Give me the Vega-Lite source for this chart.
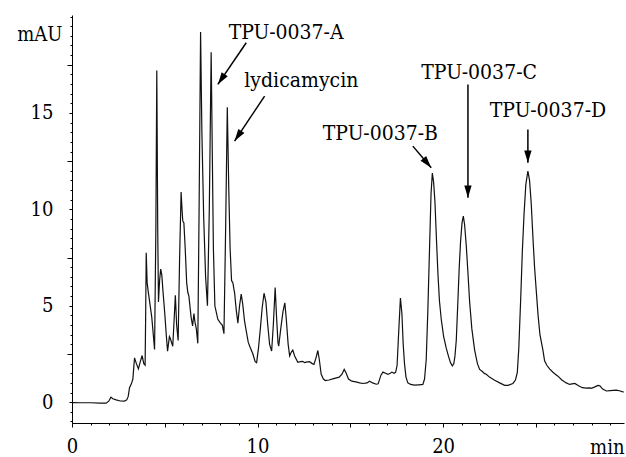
{
  "$schema": "https://vega.github.io/schema/vega-lite/v6.json",
  "width": 552,
  "height": 408,
  "autosize": {"type": "none"},
  "padding": {"left": 72, "top": 15, "right": 2, "bottom": 34},
  "background": "white",
  "config": {
    "view": {"stroke": null},
    "axis": {"grid": false, "domainColor": "black", "tickColor": "black", "labelColor": "black", "titleColor": "black", "labelFont": "DejaVu Serif Condensed", "titleFont": "DejaVu Serif Condensed", "titleFontWeight": "normal", "domainWidth": 1, "tickWidth": 1}
  },
  "datasets": {
    "trace": [
      {"t": 0, "mAU": -0.02}, {"t": 0.5, "mAU": -0.03}, {"t": 1.0, "mAU": -0.03}, {"t": 1.5, "mAU": -0.05},
      {"t": 1.84, "mAU": -0.05}, {"t": 1.98, "mAU": 0.05}, {"t": 2.1, "mAU": 0.26}, {"t": 2.2, "mAU": 0.18},
      {"t": 2.38, "mAU": 0.12}, {"t": 2.6, "mAU": 0.06}, {"t": 2.83, "mAU": 0.05}, {"t": 2.95, "mAU": 0.12},
      {"t": 3.03, "mAU": 0.3}, {"t": 3.1, "mAU": 0.75}, {"t": 3.2, "mAU": 0.95}, {"t": 3.28, "mAU": 1.2},
      {"t": 3.37, "mAU": 2.3}, {"t": 3.47, "mAU": 2.0}, {"t": 3.58, "mAU": 1.73}, {"t": 3.68, "mAU": 2.1},
      {"t": 3.78, "mAU": 2.42}, {"t": 3.87, "mAU": 2.0}, {"t": 3.94, "mAU": 1.92}, {"t": 3.97, "mAU": 4.5},
      {"t": 4.0, "mAU": 7.75}, {"t": 4.05, "mAU": 6.2}, {"t": 4.1, "mAU": 5.8}, {"t": 4.2, "mAU": 5.1},
      {"t": 4.3, "mAU": 4.4}, {"t": 4.45, "mAU": 2.73}, {"t": 4.52, "mAU": 9.0}, {"t": 4.57, "mAU": 17.2},
      {"t": 4.62, "mAU": 9.0}, {"t": 4.66, "mAU": 5.2}, {"t": 4.72, "mAU": 6.3}, {"t": 4.78, "mAU": 6.9},
      {"t": 4.84, "mAU": 6.6}, {"t": 4.9, "mAU": 5.8}, {"t": 5.0, "mAU": 4.6}, {"t": 5.08, "mAU": 3.5},
      {"t": 5.15, "mAU": 2.65}, {"t": 5.25, "mAU": 3.4}, {"t": 5.3, "mAU": 3.3}, {"t": 5.43, "mAU": 2.9},
      {"t": 5.5, "mAU": 4.2}, {"t": 5.57, "mAU": 5.55}, {"t": 5.64, "mAU": 4.0}, {"t": 5.72, "mAU": 3.2},
      {"t": 5.8, "mAU": 7.5}, {"t": 5.88, "mAU": 10.9}, {"t": 5.93, "mAU": 10.0}, {"t": 5.97, "mAU": 9.4},
      {"t": 6.03, "mAU": 9.3}, {"t": 6.1, "mAU": 8.0}, {"t": 6.18, "mAU": 6.2}, {"t": 6.24, "mAU": 5.7},
      {"t": 6.3, "mAU": 5.5}, {"t": 6.42, "mAU": 4.4}, {"t": 6.5, "mAU": 3.95}, {"t": 6.57, "mAU": 4.6},
      {"t": 6.62, "mAU": 4.2}, {"t": 6.7, "mAU": 3.8}, {"t": 6.78, "mAU": 3.05}, {"t": 6.85, "mAU": 10.0},
      {"t": 6.93, "mAU": 19.2}, {"t": 7.0, "mAU": 14.0}, {"t": 7.1, "mAU": 9.5}, {"t": 7.2, "mAU": 6.5},
      {"t": 7.3, "mAU": 5.0}, {"t": 7.4, "mAU": 10.0}, {"t": 7.5, "mAU": 18.15}, {"t": 7.56, "mAU": 13.0},
      {"t": 7.62, "mAU": 8.0}, {"t": 7.7, "mAU": 5.0}, {"t": 7.86, "mAU": 4.3}, {"t": 8.0, "mAU": 4.1},
      {"t": 8.1, "mAU": 4.0}, {"t": 8.19, "mAU": 3.55}, {"t": 8.28, "mAU": 9.0}, {"t": 8.37, "mAU": 15.3},
      {"t": 8.45, "mAU": 11.0}, {"t": 8.52, "mAU": 8.0}, {"t": 8.6, "mAU": 6.3}, {"t": 8.67, "mAU": 6.2},
      {"t": 8.72, "mAU": 5.9}, {"t": 8.76, "mAU": 5.7}, {"t": 8.85, "mAU": 4.8}, {"t": 8.94, "mAU": 4.1},
      {"t": 9.03, "mAU": 5.0}, {"t": 9.12, "mAU": 5.6}, {"t": 9.2, "mAU": 5.1}, {"t": 9.3, "mAU": 4.2},
      {"t": 9.39, "mAU": 3.7}, {"t": 9.5, "mAU": 3.1}, {"t": 9.6, "mAU": 2.85}, {"t": 9.75, "mAU": 2.5},
      {"t": 9.87, "mAU": 2.1}, {"t": 9.95, "mAU": 2.05}, {"t": 10.05, "mAU": 2.8}, {"t": 10.15, "mAU": 3.8},
      {"t": 10.25, "mAU": 4.9}, {"t": 10.35, "mAU": 5.65}, {"t": 10.45, "mAU": 5.2}, {"t": 10.55, "mAU": 4.0},
      {"t": 10.65, "mAU": 3.0}, {"t": 10.76, "mAU": 2.65}, {"t": 10.85, "mAU": 4.0}, {"t": 10.95, "mAU": 5.95},
      {"t": 11.02, "mAU": 4.5}, {"t": 11.1, "mAU": 3.1}, {"t": 11.14, "mAU": 2.9}, {"t": 11.25, "mAU": 3.8},
      {"t": 11.37, "mAU": 4.7}, {"t": 11.47, "mAU": 5.15}, {"t": 11.55, "mAU": 4.3}, {"t": 11.65, "mAU": 3.0},
      {"t": 11.73, "mAU": 2.4}, {"t": 11.82, "mAU": 2.6}, {"t": 11.9, "mAU": 2.7}, {"t": 12.0, "mAU": 2.4},
      {"t": 12.17, "mAU": 2.07}, {"t": 12.3, "mAU": 2.1}, {"t": 12.44, "mAU": 2.12}, {"t": 12.53, "mAU": 2.05},
      {"t": 12.62, "mAU": 2.08}, {"t": 12.8, "mAU": 2.1}, {"t": 12.95, "mAU": 2.0}, {"t": 13.04, "mAU": 1.96},
      {"t": 13.15, "mAU": 2.3}, {"t": 13.25, "mAU": 2.68}, {"t": 13.33, "mAU": 2.2}, {"t": 13.43, "mAU": 1.45},
      {"t": 13.55, "mAU": 1.2}, {"t": 13.65, "mAU": 1.12}, {"t": 13.85, "mAU": 1.15}, {"t": 14.1, "mAU": 1.22},
      {"t": 14.4, "mAU": 1.3}, {"t": 14.55, "mAU": 1.45}, {"t": 14.67, "mAU": 1.7}, {"t": 14.78, "mAU": 1.5},
      {"t": 14.9, "mAU": 1.2}, {"t": 15.08, "mAU": 1.09}, {"t": 15.3, "mAU": 1.05}, {"t": 15.5, "mAU": 1.0},
      {"t": 15.68, "mAU": 0.97}, {"t": 15.9, "mAU": 1.0}, {"t": 16.04, "mAU": 1.09}, {"t": 16.2, "mAU": 1.0},
      {"t": 16.4, "mAU": 0.93}, {"t": 16.5, "mAU": 0.95}, {"t": 16.65, "mAU": 1.4}, {"t": 16.76, "mAU": 1.56},
      {"t": 16.9, "mAU": 1.5}, {"t": 17.03, "mAU": 1.44}, {"t": 17.15, "mAU": 1.5}, {"t": 17.24, "mAU": 1.56},
      {"t": 17.35, "mAU": 1.5}, {"t": 17.44, "mAU": 1.55}, {"t": 17.52, "mAU": 1.9}, {"t": 17.6, "mAU": 3.5},
      {"t": 17.7, "mAU": 5.4}, {"t": 17.78, "mAU": 4.6}, {"t": 17.85, "mAU": 3.0}, {"t": 17.92, "mAU": 2.0},
      {"t": 18.0, "mAU": 1.3}, {"t": 18.1, "mAU": 1.0}, {"t": 18.25, "mAU": 0.92}, {"t": 18.46, "mAU": 0.88},
      {"t": 18.7, "mAU": 0.9}, {"t": 18.91, "mAU": 0.92}, {"t": 19.0, "mAU": 1.2}, {"t": 19.09, "mAU": 2.2},
      {"t": 19.18, "mAU": 4.8}, {"t": 19.27, "mAU": 8.0}, {"t": 19.35, "mAU": 10.8}, {"t": 19.42, "mAU": 11.88},
      {"t": 19.49, "mAU": 11.4}, {"t": 19.56, "mAU": 10.4}, {"t": 19.64, "mAU": 8.5}, {"t": 19.72, "mAU": 6.7},
      {"t": 19.8, "mAU": 5.3}, {"t": 19.9, "mAU": 4.3}, {"t": 20.03, "mAU": 3.4}, {"t": 20.17, "mAU": 2.8},
      {"t": 20.3, "mAU": 2.35}, {"t": 20.4, "mAU": 2.05}, {"t": 20.5, "mAU": 1.88}, {"t": 20.58, "mAU": 2.0},
      {"t": 20.64, "mAU": 2.4}, {"t": 20.71, "mAU": 3.2}, {"t": 20.8, "mAU": 5.3}, {"t": 20.87, "mAU": 7.0},
      {"t": 20.94, "mAU": 8.3}, {"t": 21.02, "mAU": 9.3}, {"t": 21.09, "mAU": 9.65}, {"t": 21.16, "mAU": 9.2},
      {"t": 21.25, "mAU": 8.1}, {"t": 21.34, "mAU": 6.7}, {"t": 21.43, "mAU": 5.2}, {"t": 21.55, "mAU": 3.8},
      {"t": 21.7, "mAU": 2.7}, {"t": 21.85, "mAU": 2.0}, {"t": 21.97, "mAU": 1.7}, {"t": 22.1, "mAU": 1.6},
      {"t": 22.24, "mAU": 1.48}, {"t": 22.33, "mAU": 1.45}, {"t": 22.5, "mAU": 1.3}, {"t": 22.78, "mAU": 1.14},
      {"t": 23.05, "mAU": 1.0}, {"t": 23.32, "mAU": 0.87}, {"t": 23.5, "mAU": 0.87}, {"t": 23.76, "mAU": 0.97},
      {"t": 23.9, "mAU": 1.15}, {"t": 24.0, "mAU": 1.55}, {"t": 24.08, "mAU": 2.8}, {"t": 24.18, "mAU": 5.3},
      {"t": 24.27, "mAU": 7.8}, {"t": 24.36, "mAU": 9.7}, {"t": 24.46, "mAU": 11.3}, {"t": 24.57, "mAU": 11.98},
      {"t": 24.66, "mAU": 11.5}, {"t": 24.75, "mAU": 10.3}, {"t": 24.85, "mAU": 8.4}, {"t": 24.93, "mAU": 7.0},
      {"t": 25.02, "mAU": 5.8}, {"t": 25.12, "mAU": 4.5}, {"t": 25.22, "mAU": 3.5}, {"t": 25.38, "mAU": 2.7},
      {"t": 25.47, "mAU": 2.15}, {"t": 25.6, "mAU": 1.9}, {"t": 25.74, "mAU": 1.73}, {"t": 25.92, "mAU": 1.55},
      {"t": 26.05, "mAU": 1.45}, {"t": 26.19, "mAU": 1.35}, {"t": 26.4, "mAU": 1.15}, {"t": 26.64, "mAU": 1.0},
      {"t": 26.82, "mAU": 0.92}, {"t": 26.95, "mAU": 0.95}, {"t": 27.1, "mAU": 0.97}, {"t": 27.3, "mAU": 0.85},
      {"t": 27.5, "mAU": 0.75}, {"t": 27.72, "mAU": 0.73}, {"t": 27.9, "mAU": 0.74}, {"t": 27.99, "mAU": 0.72},
      {"t": 28.15, "mAU": 0.78}, {"t": 28.35, "mAU": 0.87}, {"t": 28.45, "mAU": 0.85}, {"t": 28.6, "mAU": 0.68},
      {"t": 28.8, "mAU": 0.58}, {"t": 29.0, "mAU": 0.6}, {"t": 29.34, "mAU": 0.62}, {"t": 29.55, "mAU": 0.58},
      {"t": 29.73, "mAU": 0.52}
    ],
    "labels": [
      {"name": "TPU-0037-A", "t": 11.54, "mAU": 18.86},
      {"name": "lydicamycin", "t": 12.36, "mAU": 16.37},
      {"name": "TPU-0037-B", "t": 16.62, "mAU": 13.59},
      {"name": "TPU-0037-C", "t": 21.94, "mAU": 16.74},
      {"name": "TPU-0037-D", "t": 25.65, "mAU": 14.77}
    ],
    "arrows": [
      {"name": "A", "t1": 9.39, "v1": 18.64, "t2": 7.86, "v2": 16.48},
      {"name": "lydicamycin", "t1": 10.38, "v1": 15.87, "t2": 8.76, "v2": 13.54},
      {"name": "B", "t1": 18.37, "v1": 13.28, "t2": 19.36, "v2": 12.16},
      {"name": "C", "t1": 21.34, "v1": 16.48, "t2": 21.34, "v2": 10.6},
      {"name": "D", "t1": 24.57, "v1": 14.14, "t2": 24.57, "v2": 12.42}
    ]
  },
  "resolve": {"axis": {"x": "independent", "y": "independent"}},
  "layer": [
    {
      "data": {"name": "trace"},
      "mark": {"type": "line", "color": "#111111", "strokeWidth": 1.2},
      "encoding": {
        "x": {"field": "t", "type": "quantitative", "scale": {"domain": [0, 29.75], "nice": false, "zero": false},
          "axis": {"orient": "bottom", "values": [0, 10, 20], "tickSize": 4, "labelFontSize": 20, "labelPadding": 9, "labelFlush": false, "labelOverlap": false,
            "title": "min", "titleFontSize": 20, "titleAnchor": "end", "titleAlign": "right", "titleBaseline": "alphabetic", "titleX": 552, "titleY": 30}},
        "y": {"field": "mAU", "type": "quantitative", "scale": {"domain": [-1.08, 20.08], "nice": false, "zero": false},
          "axis": {"orient": "left", "values": [0, 5, 10, 15], "tickSize": 3, "labelFontSize": 20, "labelPadding": 16, "labelFlush": false, "labelOverlap": false,
            "title": "mAU", "titleFontSize": 20, "titleAngle": 0, "titleAlign": "right", "titleBaseline": "alphabetic", "titleX": -10, "titleY": 25}}
      }
    },
    {
      "data": {"name": "labels"},
      "mark": {"type": "text", "font": "DejaVu Serif Condensed", "fontSize": 21, "align": "center", "baseline": "alphabetic", "color": "black"},
      "encoding": {
        "x": {"field": "t", "type": "quantitative", "scale": {"domain": [0, 29.75], "nice": false, "zero": false},
          "axis": {"orient": "bottom", "values": [0,1,2,3,4,5,6,7,8,9,10,11,12,13,14,15,16,17,18,19,20,21,22,23,24,25,26,27,28,29], "tickSize": 2, "labels": false, "domain": false, "title": null}},
        "y": {"field": "mAU", "type": "quantitative", "scale": {"domain": [-1.08, 20.08], "nice": false, "zero": false},
          "axis": {"orient": "left", "values": [-1,-0.5,0,0.5,1,1.5,2,2.5,3,3.5,4,4.5,5,5.5,6,6.5,7,7.5,8,8.5,9,9.5,10,10.5,11,11.5,12,12.5,13,13.5,14,14.5,15,15.5,16,16.5,17,17.5,18,18.5,19,19.5,20], "tickSize": 2, "labels": false, "domain": false, "title": null}},
        "text": {"field": "name", "type": "nominal"}
      }
    },
    {
      "data": {"name": "arrows"},
      "mark": {"type": "rule", "color": "black", "strokeWidth": 1.5},
      "encoding": {
        "x": {"field": "t1", "type": "quantitative", "scale": {"domain": [0, 29.75], "nice": false, "zero": false},
          "axis": {"orient": "bottom", "values": [5, 15, 25], "tickSize": 4, "labels": false, "domain": false, "title": null}},
        "y": {"field": "v1", "type": "quantitative", "scale": {"domain": [-1.08, 20.08], "nice": false, "zero": false},
          "axis": {"orient": "left", "values": [2.5, 7.5, 12.5, 17.5], "tickSize": 5, "labels": false, "domain": false, "title": null}},
        "x2": {"field": "t2"},
        "y2": {"field": "v2"}
      }
    },
    {
      "data": {"name": "arrows"},
      "transform": [{"filter": "datum.name === 'A' || datum.name === 'lydicamycin'"}],
      "mark": {"type": "point", "shape": "M -0.3 -1 L 0 0 L 0.3 -1 Z", "size": 600, "filled": true, "color": "black", "opacity": 1, "strokeWidth": 0, "angle": 34},
      "encoding": {
        "x": {"field": "t2", "type": "quantitative", "axis": null},
        "y": {"field": "v2", "type": "quantitative", "axis": null}
      }
    },
    {
      "data": {"name": "arrows"},
      "transform": [{"filter": "datum.name === 'B'"}],
      "mark": {"type": "point", "shape": "M -0.3 -1 L 0 0 L 0.3 -1 Z", "size": 600, "filled": true, "color": "black", "opacity": 1, "strokeWidth": 0, "angle": -40},
      "encoding": {
        "x": {"field": "t2", "type": "quantitative", "axis": null},
        "y": {"field": "v2", "type": "quantitative", "axis": null}
      }
    },
    {
      "data": {"name": "arrows"},
      "transform": [{"filter": "datum.name === 'C' || datum.name === 'D'"}],
      "mark": {"type": "point", "shape": "M -0.3 -1 L 0 0 L 0.3 -1 Z", "size": 600, "filled": true, "color": "black", "opacity": 1, "strokeWidth": 0},
      "encoding": {
        "x": {"field": "t2", "type": "quantitative", "axis": null},
        "y": {"field": "v2", "type": "quantitative", "axis": null}
      }
    }
  ]
}
